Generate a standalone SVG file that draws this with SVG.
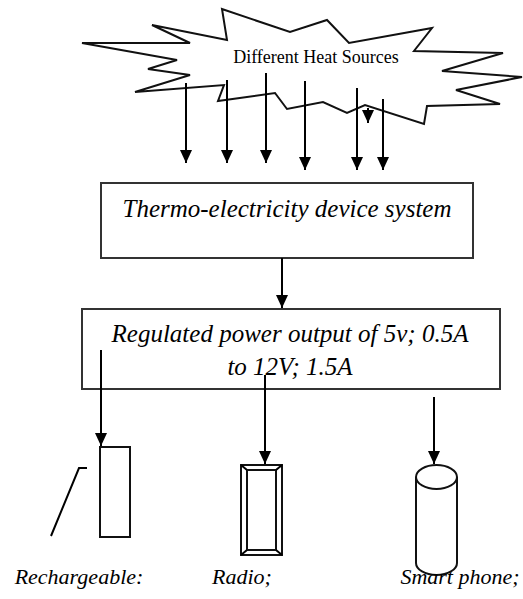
<svg xmlns="http://www.w3.org/2000/svg" width="523" height="599" viewBox="0 0 523 599">
<defs>
<style>
.ln{fill:none;stroke:#000;stroke-width:2}
.box{fill:#fff;stroke:#333;stroke-width:2}
.shape{fill:#fff;stroke:#111;stroke-width:2}
.t{font-family:"Liberation Serif","Times New Roman",serif;fill:#000;text-anchor:middle}
.it{font-style:italic}
</style>
<marker id="ah" markerUnits="userSpaceOnUse" markerWidth="13" markerHeight="12" viewBox="0 0 13 12" refX="13" refY="6" orient="auto">
<path d="M0,0 L13,6 L0,12 z" fill="#000"/>
</marker>
</defs>
<g id="heat-sources">
<polygon class="shape" stroke-width="1.8" points="82,43 190,43 152,25 227,40 222,9 290,32 327,20 349,43 432,28 414,51 503,53 442,71 522,77 456,90 500,104 427,106 424,124 365,105 347,113 323,102 287,109 275,93 218,101 224,85 135,92 190,75 148,69 177,60"/>
<text class="t" x="316" y="63" font-size="18">Different Heat Sources</text>
</g>
<g id="thermo-system">
<rect class="box" x="101" y="183" width="372" height="75"/>
<text class="t it" x="287" y="217" font-size="25">Thermo-electricity device system</text>
</g>
<g id="regulated-output">
<rect class="box" x="82" y="309" width="418" height="80"/>
<text class="t it" x="290" y="342" font-size="25">Regulated power output of 5v; 0.5A</text>
<text class="t it" x="290" y="375" font-size="25">to 12V; 1.5A</text>
</g>
<g id="rechargeable">
<rect class="shape" x="100" y="447" width="30" height="90"/>
<polyline class="ln" stroke-width="1.5" points="87,468 79,468 51,536"/>
<text class="t it" x="79" y="584" font-size="22">Rechargeable:</text>
</g>
<g id="radio">
<rect class="shape" x="241" y="465" width="41" height="90"/>
<rect class="shape" x="247" y="470" width="29" height="80"/>
<path class="ln" stroke-width="1.5" d="M241,465 L247,470 M282,465 L276,470 M241,555 L247,550 M282,555 L276,550"/>
<text class="t it" x="242" y="584" font-size="22">Radio;</text>
</g>
<g id="smart-phone">
<path class="shape" d="M416,477 L416,563 A20.5,12 0 0 0 457,563 L457,477"/>
<ellipse class="shape" cx="436.5" cy="477" rx="20.5" ry="12"/>
<text class="t it" x="460" y="584" font-size="22">Smart phone;</text>
</g>
<g id="connectors">
<line class="ln" x1="186" y1="83" x2="186" y2="163" marker-end="url(#ah)"/>
<line class="ln" x1="227" y1="80" x2="227" y2="163" marker-end="url(#ah)"/>
<line class="ln" x1="266" y1="73" x2="266" y2="163" marker-end="url(#ah)"/>
<line class="ln" x1="305" y1="81" x2="305" y2="170" marker-end="url(#ah)"/>
<line class="ln" x1="357" y1="88" x2="357" y2="170" marker-end="url(#ah)"/>
<line class="ln" x1="383" y1="99" x2="383" y2="170" marker-end="url(#ah)"/>
<line class="ln" x1="368" y1="108" x2="368" y2="123" marker-end="url(#ah)"/>
<line class="ln" x1="282" y1="258" x2="282" y2="308" marker-end="url(#ah)"/>
<line class="ln" x1="101" y1="350" x2="101" y2="446" marker-end="url(#ah)"/>
<line class="ln" x1="265" y1="375" x2="265" y2="464" marker-end="url(#ah)"/>
<line class="ln" x1="434" y1="397" x2="434" y2="464" marker-end="url(#ah)"/>
</g>
</svg>
